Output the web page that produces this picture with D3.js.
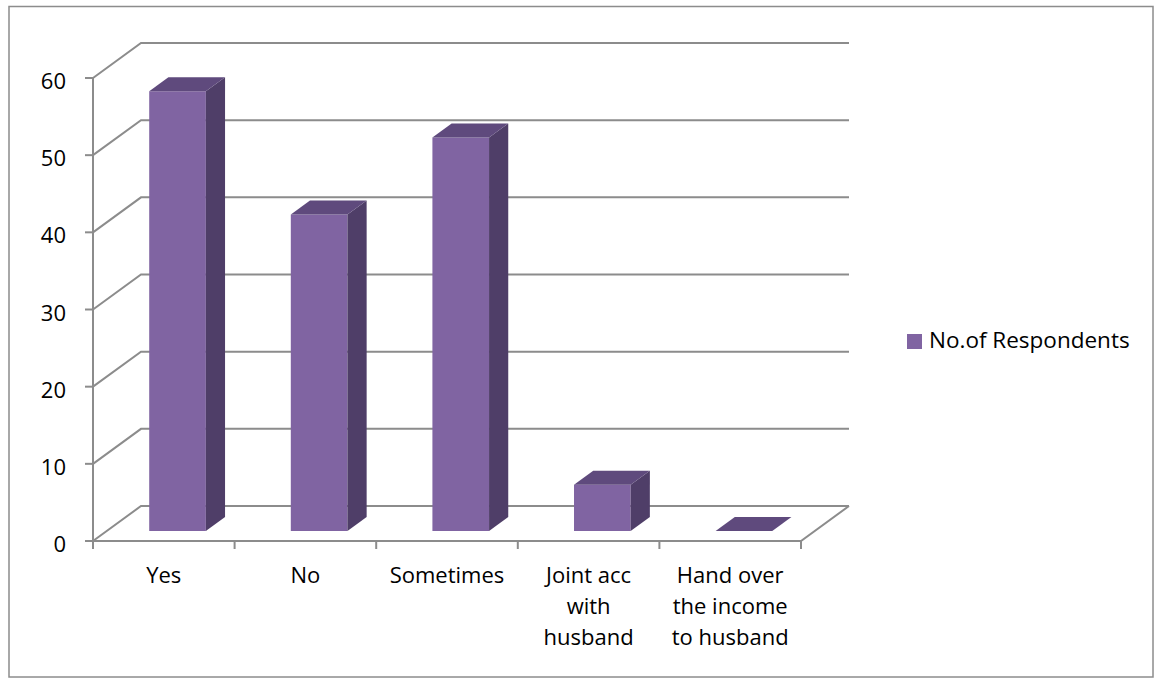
<!DOCTYPE html>
<html><head><meta charset="utf-8">
<script src="https://cdn.jsdelivr.net/npm/d3@7"></script>
<style>body{margin:0;background:#fff}svg{display:block}text{font-family:"Open Sans",sans-serif;fill:#000}</style>
</head><body>
<script>
const categories = [["Yes"],["No"],["Sometimes"],["Joint acc","with","husband"],["Hand over","the income","to husband"]];
const values = [57, 41, 51, 6, 0];
const yTicks = [0,10,20,30,40,50,60];
const seriesName = "No.of Respondents";

(function(){
const W=1154,H=679;
const svg=d3.select("body").append("svg").attr("width",W).attr("height",H);
svg.append("rect").attr("x",9).attr("y",6.5).attr("width",1144).attr("height",670.5).attr("fill","#fff").attr("stroke","#8c8c8c").attr("stroke-width",1.5);

const x=d3.scaleBand().domain(d3.range(categories.length)).range([93,801]).paddingInner(0.6).paddingOuter(0.3);
const y=d3.scaleLinear().domain([0,60]).range([541,78]);
const DX=48, DY=-35;
const P=(px,v,z)=>[px+z*DX, y(v)+z*DY];
const grid="#8c8c8c";
const g=svg.append("g");
yTicks.forEach(v=>{
  const a=P(93,v,0), b=P(93,v,1), c=P(801,v,1);
  g.append("path").attr("d",`M${a}L${b}L${c}`).attr("fill","none").attr("stroke",grid).attr("stroke-width",2);
});
const f1=P(93,0,0), f2=P(801,0,0), f3=P(801,0,1);
g.append("path").attr("d",`M${f1}L${f2}L${f3}`).attr("fill","none").attr("stroke",grid).attr("stroke-width",2);
g.append("line").attr("x1",93).attr("x2",93).attr("y1",y(60)).attr("y2",y(0)).attr("stroke",grid).attr("stroke-width",2);
yTicks.forEach(v=>{
  g.append("line").attr("x1",85).attr("x2",93).attr("y1",y(v)).attr("y2",y(v)).attr("stroke",grid).attr("stroke-width",2);
  svg.append("text").attr("x",66).attr("y",y(v)+11).attr("text-anchor","end").attr("font-size",22).text(v);
});
const step=x.step();
d3.range(categories.length+1).forEach(i=>{
  const xx=93+i*step;
  g.append("line").attr("x1",xx).attr("x2",xx).attr("y1",541).attr("y2",549).attr("stroke",grid).attr("stroke-width",2);
});
const z0=0.286, z1=0.686;
const cFront="#8064a2", cTop="#5f4a7d", cSide="#4f3e68";
values.forEach((v,i)=>{
  const x0=x(i), x1=x(i)+x.bandwidth();
  const fa=P(x0,0,z0), fb=P(x1,0,z0), fc=P(x1,v,z0), fd=P(x0,v,z0);
  const bb=P(x1,0,z1), bc=P(x1,v,z1), bd=P(x0,v,z1);
  const bar=svg.append("g");
  if(v>0){
    bar.append("path").attr("d",`M${fa}L${fb}L${fc}L${fd}Z`).attr("fill",cFront);
    bar.append("path").attr("d",`M${fb}L${bb}L${bc}L${fc}Z`).attr("fill",cSide);
  }
  bar.append("path").attr("d",`M${fd}L${fc}L${bc}L${bd}Z`).attr("fill",cTop);
});
categories.forEach((lines,i)=>{
  const cx=x(i)+x.bandwidth()/2;
  lines.forEach((t,j)=>{
    svg.append("text").attr("x",cx).attr("y",583+j*31).attr("text-anchor","middle").attr("font-size",22).text(t);
  });
});
svg.append("rect").attr("x",907).attr("y",334).attr("width",15).attr("height",15).attr("fill",cFront);
svg.append("text").attr("x",929).attr("y",348).attr("font-size",22.5).text(seriesName);
})();
</script>
</body></html>
